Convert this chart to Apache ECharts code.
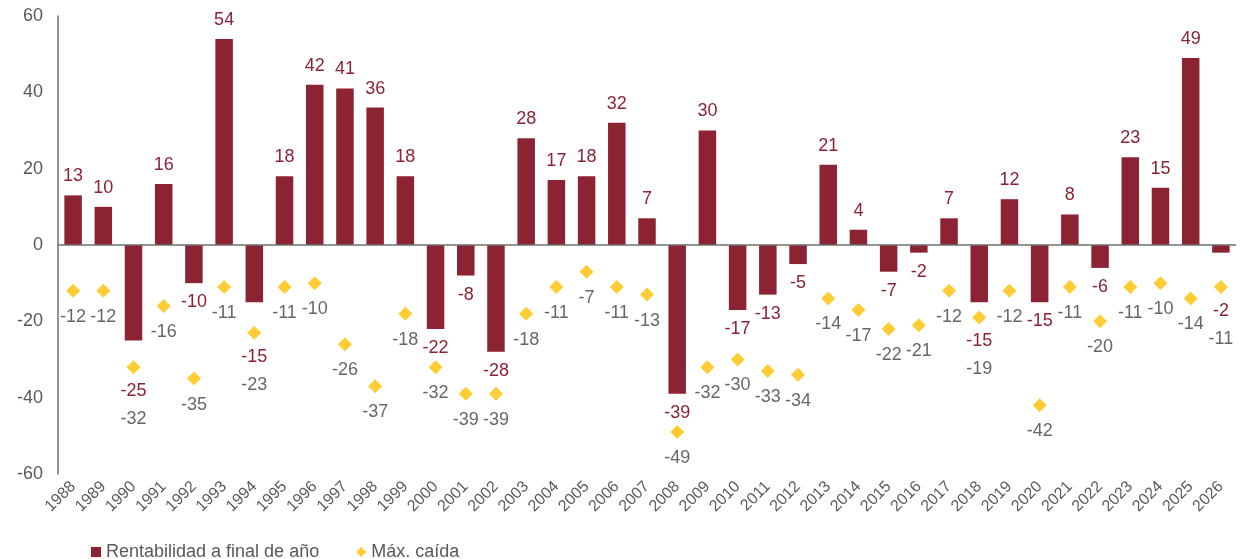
<!DOCTYPE html>
<html>
<head>
<meta charset="utf-8">
<script src="https://cdn.jsdelivr.net/npm/echarts@6/dist/echarts.min.js"></script>
<style>
  html, body { margin: 0; padding: 0; background: #fff; }
  #chart { width: 1241px; height: 559px; }
</style>
</head>
<body>
<div id="chart"></div>
<script>
var years = ['1988','1989','1990','1991','1992','1993','1994','1995','1996','1997','1998','1999',
  '2000','2001','2002','2003','2004','2005','2006','2007','2008','2009','2010','2011','2012',
  '2013','2014','2015','2016','2017','2018','2019','2020','2021','2022','2023','2024','2025','2026'];

// Rentabilidad a final de año
var returns = [13, 10, -25, 16, -10, 54, -15, 18, 42, 41, 36, 18,
  -22, -8, -28, 28, 17, 18, 32, 7, -39, 30, -17, -13, -5,
  21, 4, -7, -2, 7, -15, 12, -15, 8, -6, 23, 15, 49, -2];

// Máx. caída
var maxDrop = [-12, -12, -32, -16, -35, -11, -23, -11, -10, -26, -37, -18,
  -32, -39, -39, -18, -11, -7, -11, -13, -49, -32, -30, -33, -34,
  -14, -17, -22, -21, -12, -19, -12, -42, -11, -20, -11, -10, -14, -11];

var yTicks = [-60, 60, 20];

var FONT = '"Liberation Sans", Arial, sans-serif';
var RED = '#8B2332';
var GOLD = '#FFC000';

// la etiqueta de una barra negativa choca con el rombo?
function clash(i) {
  var v = returns[i];
  if (v >= 0) return false;
  return Math.abs((v - 5.3) - maxDrop[i]) < 4.2;
}

var myChart = echarts.init(document.getElementById('chart'));

var barData = returns.map(function (v) {
  return { value: v, label: { position: v < 0 ? 'bottom' : 'top' } };
});

myChart.setOption({
  backgroundColor: '#fff',
  animation: false,
  textStyle: { fontFamily: FONT },
  grid: { left: 58, right: 5, top: 16, bottom: 85 },
  legend: {
    left: 86,
    top: 538,
    itemGap: 37,
    itemWidth: 10,
    itemHeight: 10,
    textStyle: { fontSize: 18, color: '#595959', fontFamily: FONT },
    data: [
      { name: 'Rentabilidad a final de año', icon: 'rect' },
      { name: 'Máx. caída', icon: 'diamond' }
    ]
  },
  xAxis: {
    type: 'category',
    data: years,
    axisLine: { show: false },
    axisTick: { show: false },
    axisLabel: {
      interval: 0,
      rotate: 45,
      margin: 10,
      fontSize: 16,
      color: '#595959',
      fontFamily: FONT
    }
  },
  yAxis: {
    type: 'value',
    min: yTicks[0],
    max: yTicks[1],
    interval: yTicks[2],
    splitLine: { show: false },
    axisTick: { show: false },
    axisLine: { show: true, lineStyle: { color: '#6f6f6f', width: 1.5 } },
    axisLabel: { fontSize: 18, color: '#595959', margin: 15, fontFamily: FONT }
  },
  series: [
    {
      name: 'Rentabilidad a final de año',
      type: 'bar',
      data: barData,
      barWidth: 17.5,
      itemStyle: { color: RED },
      label: {
        show: true,
        distance: 10,
        fontSize: 18,
        fontWeight: 'normal',
        textBorderWidth: 0,
        color: RED,
        fontFamily: FONT
      },
      labelLayout: function (p) {
        var i = p.dataIndex;
        if (!clash(i)) return {};
        var k = p.rect.height / Math.abs(returns[i]);
        var dy = p.rect.y - maxDrop[i] * k;
        return { dy: dy + 24 - (p.labelRect.y + p.labelRect.height / 2) };
      },
      markLine: {
        silent: true,
        symbol: 'none',
        label: { show: false },
        lineStyle: { color: '#6f6f6f', width: 1.5, type: 'solid' },
        data: [{ yAxis: 0 }]
      },
      z: 2
    },
    {
      name: 'Máx. caída',
      type: 'scatter',
      data: maxDrop,
      symbol: 'diamond',
      symbolSize: 14,
      itemStyle: { color: GOLD },
      label: {
        show: true,
        position: 'bottom',
        distance: 10,
        fontSize: 18,
        textBorderWidth: 0,
        color: '#404040',
        fontFamily: FONT
      },
      labelLayout: function (p) {
        return clash(p.dataIndex) ? { dy: 26 } : {};
      },
      z: 3
    }
  ]
});
</script>
</body>
</html>
